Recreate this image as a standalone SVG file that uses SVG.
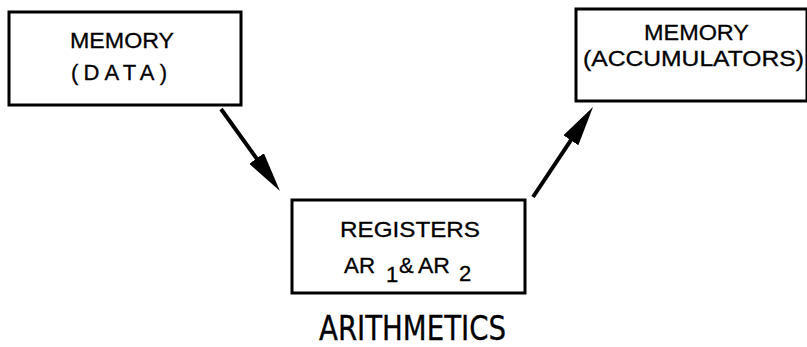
<svg xmlns="http://www.w3.org/2000/svg" width="807" height="347" viewBox="0 0 807 347">
<style>
.box{fill:#fff;stroke:#000;stroke-width:3}
.t{font-family:"Liberation Sans",Arial,sans-serif;font-size:22px;fill:#000;stroke:#000;stroke-width:0.3}
.big{font-family:"Liberation Sans Narrow","DejaVu Sans Condensed","Liberation Sans",sans-serif;font-size:34px;fill:#000;stroke:#000;stroke-width:0.3}
.conn{stroke:#000;stroke-width:4;fill:none}
</style>
<defs>
<marker id="ah" viewBox="0 0 40 18" refX="18" refY="9" markerWidth="40" markerHeight="18" markerUnits="userSpaceOnUse" orient="auto">
<path d="M0,0 L40,9 L0,18 z" fill="#000"/>
</marker>
</defs>
<rect width="807" height="347" fill="#fff"/>
<g id="connectors">
<line class="conn" x1="221" y1="109" x2="267.1" y2="173.1" marker-end="url(#ah)"/>
<line class="conn" x1="533" y1="197" x2="580.8" y2="125.3" marker-end="url(#ah)"/>
</g>
<g id="memory-data">
<rect class="box" x="9" y="12" width="232" height="93"/>
<text class="t" x="70" y="48" textLength="104" lengthAdjust="spacingAndGlyphs">MEMORY</text>
<text class="t" x="71" y="80" textLength="96">(DATA)</text>
</g>
<g id="memory-accumulators">
<rect class="box" x="576" y="9" width="231" height="92"/>
<text class="t" x="644" y="40" textLength="105" lengthAdjust="spacingAndGlyphs">MEMORY</text>
<text class="t" x="583" y="66" textLength="221" lengthAdjust="spacingAndGlyphs">(ACCUMULATORS)</text>
</g>
<g id="registers">
<rect class="box" x="292" y="200" width="233" height="93"/>
<text class="t" x="340" y="237" textLength="140" lengthAdjust="spacingAndGlyphs">REGISTERS</text>
<text class="t"><tspan x="344" y="273" textLength="31" lengthAdjust="spacingAndGlyphs">AR</tspan><tspan x="386" y="282">1</tspan><tspan x="399" y="273">&amp;</tspan><tspan x="418" y="273" textLength="32" lengthAdjust="spacingAndGlyphs">AR</tspan><tspan x="459" y="281">2</tspan></text>
</g>
<g id="arithmetics-label">
<text class="big" x="319" y="340" textLength="187" lengthAdjust="spacingAndGlyphs">ARITHMETICS</text>
</g>
</svg>
